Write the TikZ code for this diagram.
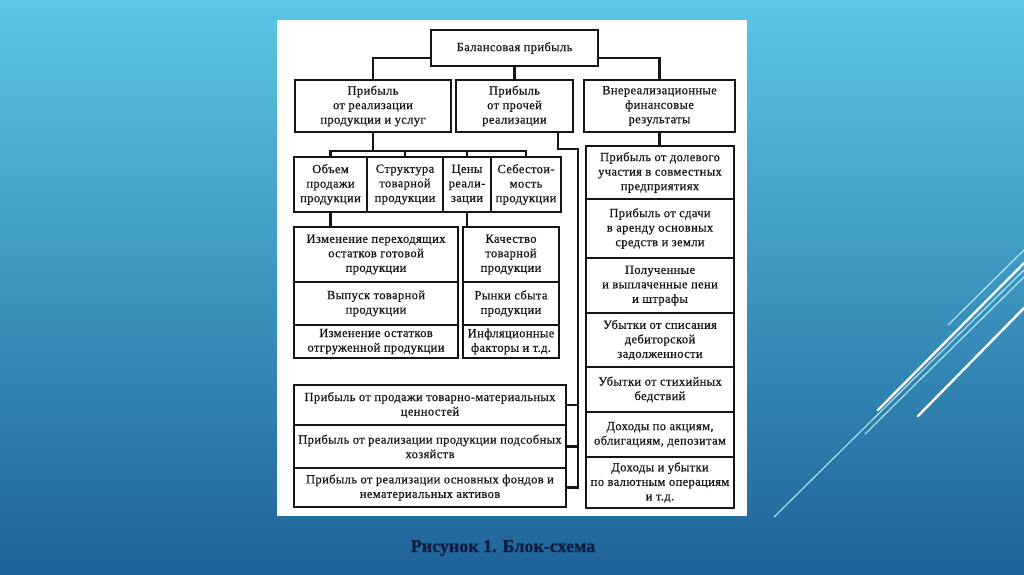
\documentclass[tikz,border=0pt]{standalone}
\usepackage{fontspec}
\setmainfont[LetterSpace=3,FakeBold=0.5]{Liberation Serif}
\newfontfamily\capfont[FakeBold=0.6]{Liberation Serif}
\definecolor{bgtop}{HTML}{5BC6E5}
\definecolor{bgbot}{HTML}{1E6399}
\definecolor{ink}{HTML}{141414}
\definecolor{navy}{HTML}{0D1B3E}
\definecolor{deco}{HTML}{B0EAF8}
\tikzset{
  box/.style={draw=ink, line width=2.1pt, fill=white, align=center, inner sep=0pt,
    text=ink, font=\fontsize{12.5}{14.5}\selectfont},
  conn/.style={draw=ink, line width=2.1pt},
  thinline/.style={draw=deco, line width=1.1pt, line cap=round},
  thickline/.style={draw=white, line width=2.4pt, line cap=round}
}
\begin{document}
\begin{tikzpicture}[x=1pt,y=-1pt]
\useasboundingbox (0,0) rectangle (1024,574);
\shade[top color=bgtop, bottom color=bgbot] (0,0) rectangle (1024,574);
% decorative lines
\draw[thinline] (948,325) -- (1024,250);
\draw[thickline] (878,410) -- (1024,263);
\draw[thinline] (774,517) -- (1024,270);
\draw[thinline] (865,434) -- (1024,277);
\draw[thickline] (918,416) -- (1024,308);
% panel
\fill[white] (277,20) rectangle (747,516);
% level 1
\node[box, minimum width=167pt, minimum height=36pt] (top) at (514.5,48) {Балансовая прибыль};
% level 2
\node[box, minimum width=156pt, minimum height=52pt] (A) at (373,106) {Прибыль\\от реализации\\продукции и услуг};
\node[box, minimum width=117pt, minimum height=52pt] (B) at (514.5,106) {Прибыль\\от прочей\\реализации};
\node[box, minimum width=151pt, minimum height=52pt] (C) at (659.5,106) {Внереализационные\\финансовые\\результаты};
% level 3
\node[box, minimum width=73pt, minimum height=55pt] (o1) at (330.5,184.5) {Объем\\продажи\\продукции};
\node[box, minimum width=76pt, minimum height=55pt] (o2) at (405,184.5) {Структура\\товарной\\продукции};
\node[box, minimum width=48pt, minimum height=55pt] (o3) at (467,184.5) {Цены\\реали-\\зации};
\node[box, minimum width=70pt, minimum height=55pt] (o4) at (526,184.5) {Себестои-\\мость\\продукции};
% left stack
\node[box, minimum width=164pt, minimum height=55pt] (l1) at (376,254.5) {Изменение переходящих\\остатков готовой\\продукции};
\node[box, minimum width=164pt, minimum height=43pt] (l2) at (376,303.5) {Выпуск товарной\\продукции};
\node[box, minimum width=164pt, minimum height=33pt] (l3) at (376,341.5) {Изменение остатков\\отгруженной продукции};
% small right stack
\node[box, minimum width=96pt, minimum height=55pt] (s1) at (511,254.5) {Качество\\товарной\\продукции};
\node[box, minimum width=96pt, minimum height=43pt] (s2) at (511,303.5) {Рынки сбыта\\продукции};
\node[box, minimum width=96pt, minimum height=33pt] (s3) at (511,341.5) {Инфляционные\\факторы и т.д.};
% lower stack
\node[box, minimum width=272pt, minimum height=40pt] (p1) at (430,405) {Прибыль от продажи товарно-материальных\\ценностей};
\node[box, minimum width=272pt, minimum height=43pt] (p2) at (430,446.5) {Прибыль от реализации продукции подсобных\\хозяйств};
\node[box, minimum width=272pt, minimum height=39pt] (p3) at (430,487.5) {Прибыль от реализации основных фондов и\\нематериальных активов};
% right column
\node[box, minimum width=148pt, minimum height=53pt] (r1) at (660,172.5) {Прибыль от долевого\\участия в совместных\\предприятиях};
\node[box, minimum width=148pt, minimum height=59pt] (r2) at (660,228.5) {Прибыль от сдачи\\в аренду основных\\средств и земли};
\node[box, minimum width=148pt, minimum height=55pt] (r3) at (660,285.5) {Полученные\\и выплаченные пени\\и штрафы};
\node[box, minimum width=148pt, minimum height=54pt] (r4) at (660,340) {Убытки от списания\\дебиторской\\задолженности};
\node[box, minimum width=148pt, minimum height=45pt] (r5) at (660,389.5) {Убытки от стихийных\\бедствий};
\node[box, minimum width=148pt, minimum height=45pt] (r6) at (660,434.5) {Доходы по акциям,\\облигациям, депозитам};
\node[box, minimum width=148pt, minimum height=51pt] (r7) at (660,482.5) {Доходы и убытки\\по валютным операциям\\и т.д.};
% connectors
\draw[conn] ([yshift=-10pt]top.west) -| (A.north);
\draw[conn] ([yshift=-10pt]top.east) -| (C.north);
\draw[conn] (top.south) -- (B.north);
\coordinate (bus) at (0,151);
\draw[conn] (A.south) -- (A.south |- bus);
\draw[conn] (o1.north) -- (o1.north |- bus) -- (o4.north |- bus) -- (o4.north);
\draw[conn] (o2.north) -- (o2.north |- bus);
\draw[conn] (o3.north) -- (o3.north |- bus);
\draw[conn] (o1.south) -- (o1.south |- l1.north);
\draw[conn] (o3.south) -- (o3.south |- s1.north);
\draw[conn] (C.south) -- (C.south |- r1.north);
\coordinate (bj) at (578,149);
\draw[conn] ([xshift=-16pt]B.south east) |- (bj) -- (bj |- p3.east) -- (p3.east);
\draw[conn] (p1.east) -- (p1.east -| bj);
\draw[conn] (p2.east) -- (p2.east -| bj);
% caption
\node[font=\capfont\bfseries\fontsize{18}{21}\selectfont, text=navy] (cap) at (503,548) {Рисунок 1. Блок-схема};
\end{tikzpicture}
\end{document}
